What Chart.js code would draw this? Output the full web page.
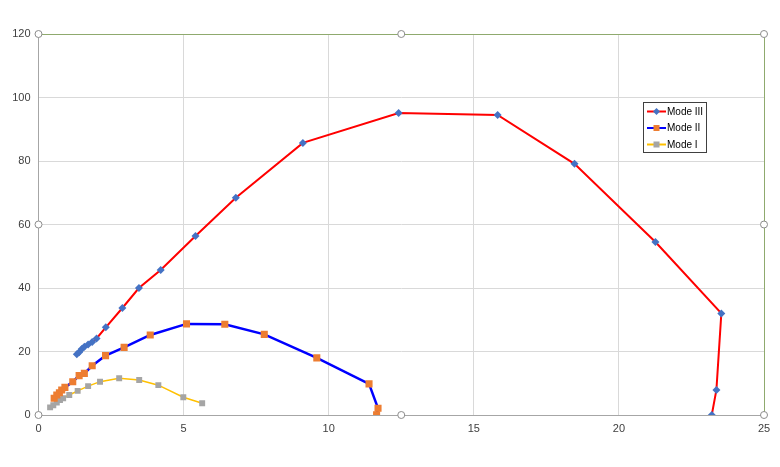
<!DOCTYPE html>
<html>
<head>
<meta charset="utf-8">
<script src="https://cdn.jsdelivr.net/npm/chart.js@4/dist/chart.umd.min.js"></script>
<style>
  html, body { margin: 0; padding: 0; background: #fff; }
  #wrap { width: 780px; height: 467px; position: relative; }
</style>
</head>
<body>
<div id="wrap"><canvas id="chart" width="780" height="467"></canvas></div>
<script>
'use strict';

// Mode III
var mode3X = [1.32, 1.40, 1.49, 1.58, 1.71, 1.85, 2.00, 2.32, 2.89, 3.46, 4.21, 5.41, 6.80, 9.11, 12.41, 15.82, 18.47, 21.26, 23.53, 23.36, 23.20];
var mode3Y = [19.1, 19.8, 20.8, 21.5, 22.2, 23.0, 24.1, 27.6, 33.7, 40.0, 45.7, 56.4, 68.4, 85.7, 95.1, 94.5, 79.1, 54.5, 32.0, 7.9, 0];

// Mode II
var mode2X = [0.54, 0.63, 0.72, 0.80, 0.91, 1.18, 1.40, 1.58, 1.85, 2.31, 2.95, 3.85, 5.10, 6.42, 7.78, 9.59, 11.39, 11.70, 11.65];
var mode2Y = [5.3, 6.3, 7.0, 7.9, 8.7, 10.5, 12.4, 13.1, 15.5, 18.7, 21.3, 25.2, 28.7, 28.6, 25.4, 18.0, 9.8, 2.1, 0.1];

// Mode I
var mode1X = [0.40, 0.51, 0.63, 0.74, 0.85, 1.06, 1.35, 1.71, 2.12, 2.78, 3.47, 4.13, 4.99, 5.64];
var mode1Y = [2.4, 3.1, 3.9, 4.7, 5.3, 6.3, 7.6, 9.1, 10.5, 11.6, 11.0, 9.4, 5.6, 3.7];

var xTicks = [0, 5, 10, 15, 20, 25];
var yTicks = [0, 20, 40, 60, 80, 100, 120];

function toPoints(xs, ys) {
  return xs.map(function(x, i) { return { x: x, y: ys[i] }; });
}

// Legend box drawn by hand so each entry shows the line and its marker
var legendBox = {
  id: 'legendBox',
  afterDraw: function(chart) {
    var ctx = chart.ctx;
    var x0 = 643, y0 = 102, w = 63, h = 50;
    ctx.save();
    ctx.fillStyle = '#fff';
    ctx.fillRect(x0, y0, w, h);
    ctx.strokeStyle = '#404040';
    ctx.lineWidth = 1;
    ctx.strokeRect(x0 + 0.5, y0 + 0.5, w, h);
    ctx.font = '10px "Liberation Sans", Arial, sans-serif';
    ctx.textBaseline = 'middle';
    chart.data.datasets.forEach(function(ds, i) {
      var cy = y0 + 9.5 + i * 16.5;
      ctx.strokeStyle = ds.borderColor;
      ctx.lineWidth = 2;
      ctx.beginPath();
      ctx.moveTo(x0 + 4, cy);
      ctx.lineTo(x0 + 23, cy);
      ctx.stroke();
      ctx.fillStyle = ds.pointBackgroundColor;
      var mx = x0 + 13.5;
      if (ds.pointStyle === 'rectRot') {
        ctx.beginPath();
        ctx.moveTo(mx, cy - 3.5);
        ctx.lineTo(mx + 3.5, cy);
        ctx.lineTo(mx, cy + 3.5);
        ctx.lineTo(mx - 3.5, cy);
        ctx.closePath();
        ctx.fill();
      } else {
        ctx.fillRect(mx - 3, cy - 3, 6, 6);
      }
      ctx.fillStyle = '#000';
      ctx.fillText(ds.label, x0 + 24, cy + 0.5);
    });
    ctx.restore();
  }
};

// Chart area outline and selection handles
var frame = {
  id: 'frame',
  afterDraw: function(chart) {
    var a = chart.chartArea;
    var ctx = chart.ctx;
    ctx.save();
    ctx.strokeStyle = '#8faa6e';
    ctx.lineWidth = 1;
    ctx.beginPath();
    ctx.moveTo(a.left, a.top + 0.5);
    ctx.lineTo(a.right + 0.5, a.top + 0.5);
    ctx.lineTo(a.right + 0.5, a.bottom);
    ctx.stroke();
    var mx = (a.left + a.right) / 2, my = (a.top + a.bottom) / 2;
    var handles = [[a.left, a.top], [mx, a.top], [a.right, a.top], [a.left, my], [a.right, my],
                   [a.left, a.bottom], [mx, a.bottom], [a.right, a.bottom]];
    handles.forEach(function(p) {
      ctx.beginPath();
      ctx.arc(p[0], p[1], 3.5, 0, Math.PI * 2);
      ctx.fillStyle = '#fff';
      ctx.fill();
      ctx.strokeStyle = '#8c8c8c';
      ctx.stroke();
    });
    ctx.restore();
  }
};

var tickFont = { family: '"Liberation Sans", Arial, sans-serif', size: 11 };

new Chart(document.getElementById('chart'), {
  type: 'scatter',
  data: {
    datasets: [
      {
        label: 'Mode III',
        data: toPoints(mode3X, mode3Y),
        showLine: true,
        borderColor: '#ff0000',
        borderWidth: 2,
        pointStyle: 'rectRot',
        pointRadius: 4,
        pointBackgroundColor: '#4472c4',
        pointBorderWidth: 0
      },
      {
        label: 'Mode II',
        data: toPoints(mode2X, mode2Y),
        showLine: true,
        borderColor: '#0000ff',
        borderWidth: 2.5,
        pointStyle: 'rect',
        pointRadius: 5,
        pointBackgroundColor: '#ed7d31',
        pointBorderWidth: 0
      },
      {
        label: 'Mode I',
        data: toPoints(mode1X, mode1Y),
        showLine: true,
        borderColor: '#ffc000',
        borderWidth: 1.5,
        pointStyle: 'rect',
        pointRadius: 4.2,
        pointBackgroundColor: '#a5a5a5',
        pointBorderWidth: 0
      }
    ]
  },
  options: {
    responsive: false,
    animation: false,
    layout: { padding: { top: 34, right: 16, left: 0, bottom: 0 } },
    plugins: {
      legend: { display: false },
      tooltip: { enabled: false }
    },
    scales: {
      x: {
        type: 'linear',
        min: 0,
        max: 25,
        afterBuildTicks: function(scale) {
          scale.ticks = xTicks.map(function(v) { return { value: v }; });
        },
        afterFit: function(scale) { scale.height = 52; },
        grid: { color: '#d9d9d9', drawTicks: false },
        border: { color: '#a6a6a6' },
        ticks: { font: tickFont, color: '#404040', padding: 7, maxRotation: 0 }
      },
      y: {
        min: 0,
        max: 120,
        afterBuildTicks: function(scale) {
          scale.ticks = yTicks.map(function(v) { return { value: v }; });
        },
        afterFit: function(scale) { scale.width = 38.5; },
        grid: { color: '#d9d9d9', drawTicks: false },
        border: { color: '#a6a6a6' },
        ticks: { font: tickFont, color: '#404040', padding: 8 }
      }
    }
  },
  plugins: [frame, legendBox]
});
</script>
</body>
</html>
